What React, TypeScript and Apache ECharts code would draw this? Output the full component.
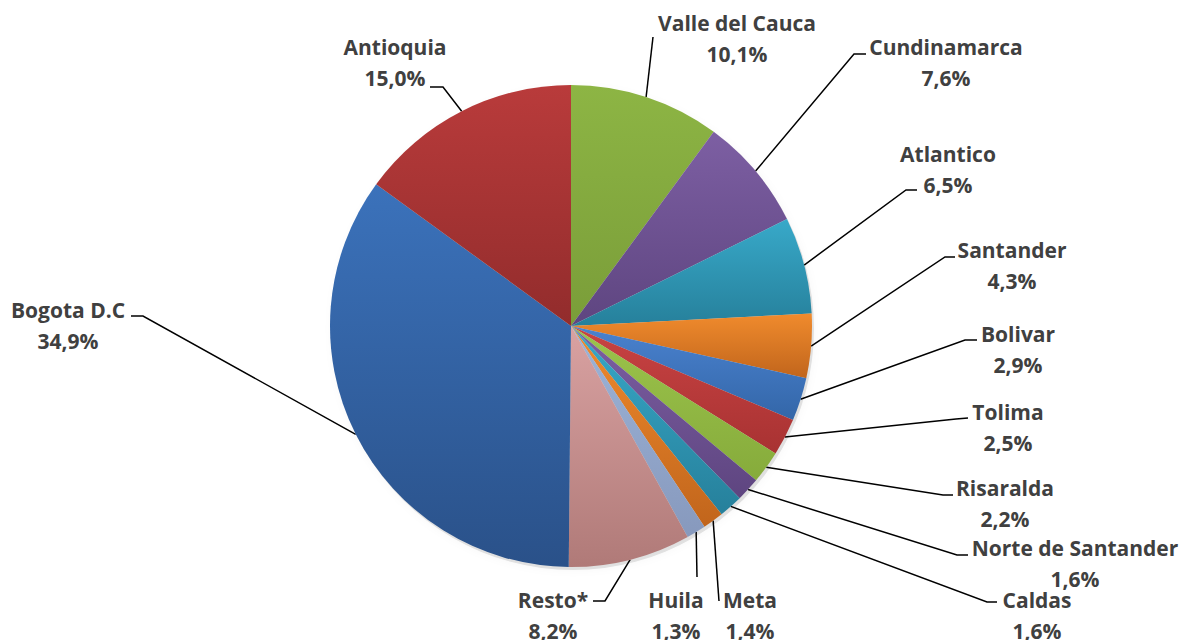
import React, { useEffect, useRef } from "react";
import * as echarts from "echarts";

const departments = [
  "Valle del Cauca", "Cundinamarca", "Atlantico", "Santander", "Bolivar", "Tolima",
  "Risaralda", "Norte de Santander", "Caldas", "Meta", "Huila", "Resto*", "Bogota D.C", "Antioquia",
];
const shares = [10.1, 7.6, 6.5, 4.3, 2.9, 2.5, 2.2, 1.6, 1.6, 1.4, 1.3, 8.2, 34.9, 15.0];
const colorsTop = [
  "#8db544", "#7d5fa3", "#38a9c9", "#f08b2d", "#4a82cf", "#c94343", "#9cc44c",
  "#7d5fa3", "#38a9c9", "#f08b2d", "#9db4d8", "#d9a2a2", "#3b72bb", "#b93b3b",
];
const colorsBottom = [
  "#7a9d39", "#5e4580", "#26809b", "#c1651c", "#3366a8", "#a83232", "#86ab3b",
  "#5e4580", "#26809b", "#c1651c", "#8799bd", "#b07a78", "#2a5189", "#922c2c",
];

// label placement (layout only): [centerX, centerY, bendX, bendY, endX, endY]
const labelPlacement: number[][] = [
  [737, 38, 653, 37, 653, 37],
  [946, 62, 854, 54, 866, 54],
  [948, 169, 906, 190, 917, 190],
  [1012, 265, 945, 257, 955, 257],
  [1018, 349, 965, 340, 977, 340],
  [1008, 427, 956, 419, 968, 418],
  [1005, 503, 943, 495, 953, 495],
  [1075, 563, 957, 555, 968, 555],
  [1037, 615, 987, 602, 997, 602],
  [750, 615, 719, 601, 719, 601],
  [676, 615, 697, 577, 697, 577],
  [553, 615, 605, 601, 593, 601],
  [68, 325, 143, 316, 131, 316],
  [395, 62, 443, 87, 430, 87],
];

const CX = 571;
const CY = 326;
const R = 241;

export default function App() {
  const ref = useRef<HTMLDivElement>(null);
  useEffect(() => {
    if (!ref.current) return;
    const chart = echarts.init(ref.current, undefined, { renderer: "svg" });
    const total = shares.reduce((a, b) => a + b, 0);
    const data = departments.map((name, i) => ({
      name,
      value: shares[i],
      itemStyle: {
        color: new echarts.graphic.LinearGradient(0, 0, 0, 1, [
          { offset: 0, color: colorsTop[i] },
          { offset: 1, color: colorsBottom[i] },
        ]),
      },
    }));
    chart.setOption({
      animation: false,
      backgroundColor: "#ffffff",
      series: [
        {
          type: "pie",
          silent: true,
          center: [CX + 2, CY + 3],
          radius: R,
          label: { show: false },
          labelLine: { show: false },
          data: [{ value: 1, name: "", itemStyle: { color: "rgba(0,0,0,0.10)", shadowBlur: 8, shadowColor: "rgba(0,0,0,0.35)" } }],
          z: 1,
        },
        {
          type: "pie",
          center: [CX, CY],
          radius: R,
          startAngle: 90,
          clockwise: true,
          avoidLabelOverlap: false,
          z: 2,
          itemStyle: { borderWidth: 0 },
          label: {
            show: true,
            formatter: (p: any) => `${p.name}\n${Number(p.value).toFixed(1).replace(".", ",")}%`,
            fontFamily: "'Open Sans', Lato, sans-serif",
            fontWeight: "bold",
            fontSize: 21,
            lineHeight: 31,
            color: "#404040",
            align: "center",
          },
          labelLine: {
            show: true,
            lineStyle: { color: "#000000", width: 1.5 },
          },
          labelLayout: (params: any) => {
            const i = params.dataIndex;
            const p = labelPlacement[i];
            let before = 0;
            for (let k = 0; k < i; k++) before += shares[k];
            const mid = ((before + shares[i] / 2) / total) * Math.PI * 2;
            const edge = [CX + R * Math.sin(mid), CY - R * Math.cos(mid)];
            return {
              x: p[0],
              y: p[1],
              align: "center",
              verticalAlign: "middle",
              labelLinePoints: [edge, [p[2], p[3]], [p[4], p[5]]],
            };
          },
          data,
        },
      ],
    });
    return () => chart.dispose();
  }, []);
  return (
    <div
      ref={ref}
      style={{ position: "fixed", left: 0, top: 0, width: 1182, height: 640, background: "#fff" }}
    />
  );
}
